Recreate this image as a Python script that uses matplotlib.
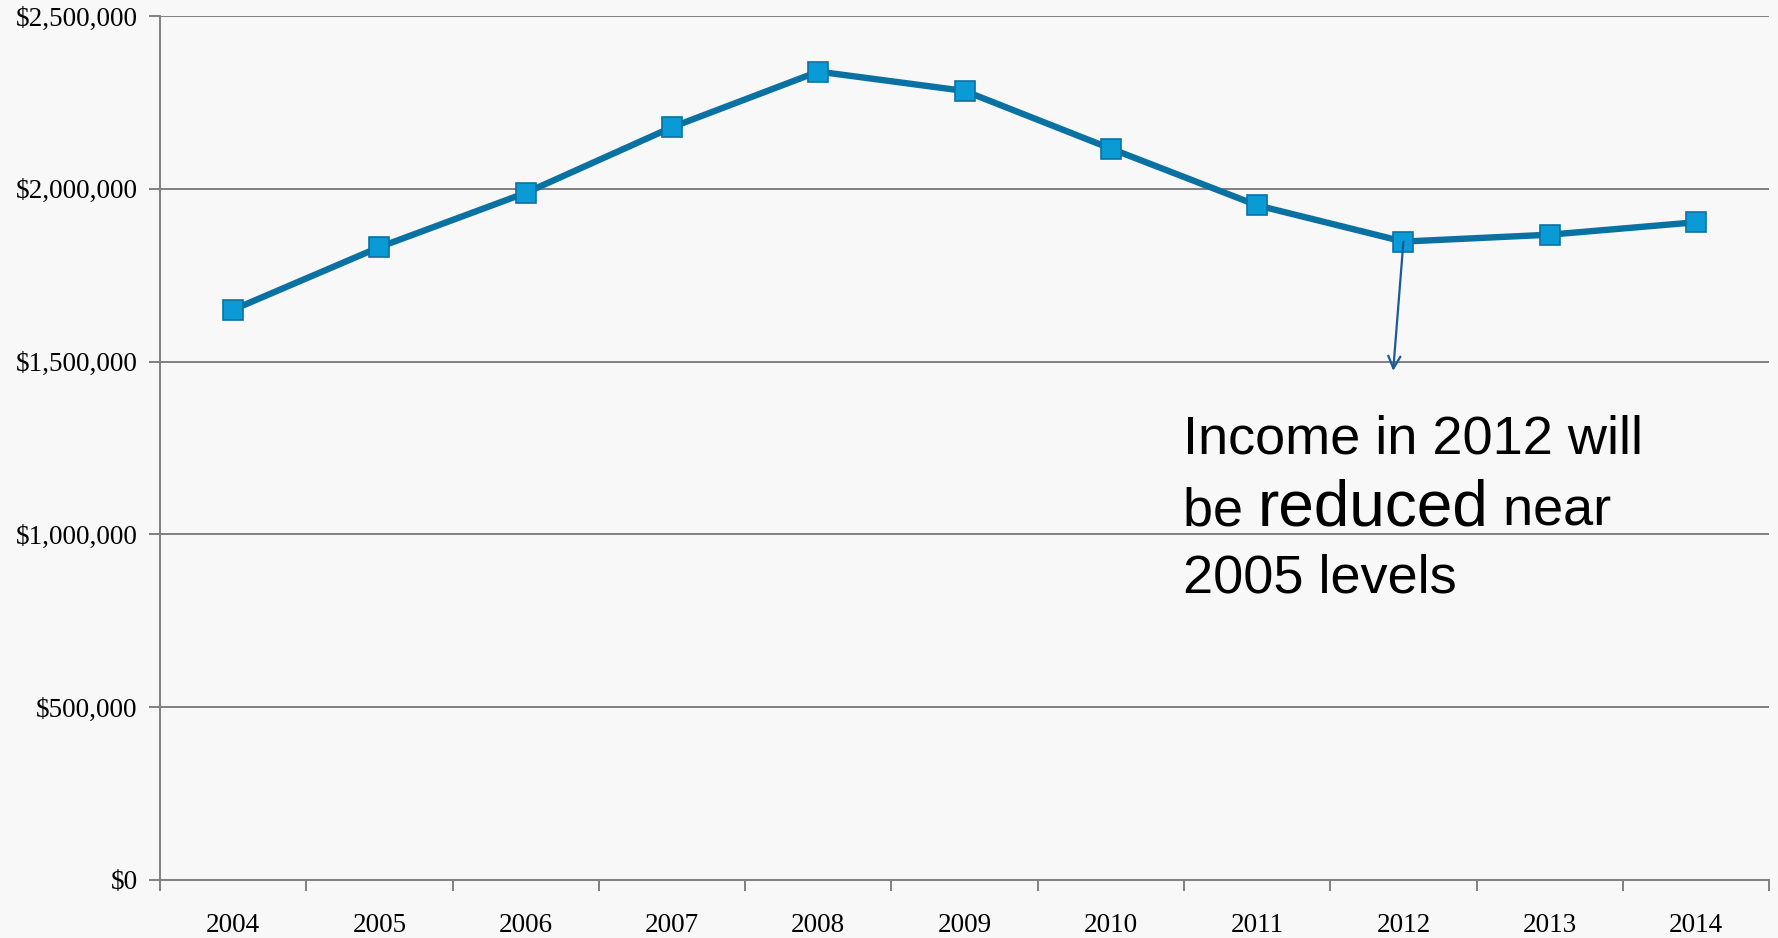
import numpy as np
from matplotlib import pyplot as plt

# data
years = ["2004", "2005", "2006", "2007", "2008", "2009", "2010", "2011", "2012", "2013", "2014"]
income = [1650000, 1831000, 1988000, 2178000, 2339000, 2283000, 2116000, 1952000, 1847000, 1867000, 1903000]
y_ticks = [0, 500000, 1000000, 1500000, 2000000, 2500000]

line_color = "#0a72a2"
marker_face = "#0a9ad6"
grid_color = "#808080"

fig = plt.figure(figsize=(17.78, 9.38), dpi=100)
fig.patch.set_facecolor("#f8f8f8")
ax = fig.add_axes([0.090, 0.062, 0.905, 0.921])
ax.set_facecolor("#f8f8f8")

x = np.arange(len(years))
ax.plot(x, income, color=line_color, linewidth=4.6, marker="s", markersize=15,
        markerfacecolor=marker_face, markeredgecolor=line_color, markeredgewidth=1.2,
        zorder=3)

ax.set_xlim(-0.5, len(years) - 0.5)
ax.set_ylim(0, 2500000)

# gridlines
ax.set_yticks(y_ticks)
ax.set_yticklabels(["${:,}".format(v) for v in y_ticks], family="Liberation Serif", fontsize=19.5)
ax.yaxis.grid(True, color=grid_color, linewidth=1.4)
ax.set_axisbelow(True)

# category boundaries as major ticks, labels on centres
ax.set_xticks(np.arange(-0.5, len(years)))
ax.set_xticklabels([])
ax.set_xticks(x, minor=True)
ax.set_xticklabels(years, minor=True, family="Liberation Serif", fontsize=19.5)
ax.tick_params(axis="x", which="major", length=8, width=1.4, color=grid_color, direction="out")
ax.tick_params(axis="x", which="minor", length=0, pad=24)
ax.tick_params(axis="y", length=8, width=1.4, color=grid_color, pad=8)

for side in ["top", "right"]:
    ax.spines[side].set_visible(False)
for side in ["left", "bottom"]:
    ax.spines[side].set_color(grid_color)
    ax.spines[side].set_linewidth(1.4)

# annotation arrow from the 2012 point
ax.annotate("", xy=(7.93, 1473000), xytext=(8, 1847000),
            arrowprops=dict(arrowstyle="->", color="#1a5a9a", lw=1.6, mutation_scale=22,
                            shrinkA=0, shrinkB=0), zorder=4)

font = dict(family="Liberation Sans", color="black")
tx = 6.49
ax.text(tx, 1233000, "Income in 2012 will", fontsize=39, va="baseline", **font)
ax.text(tx, 832000, "2005 levels", fontsize=39, va="baseline", **font)

fig.canvas.draw()
renderer = fig.canvas.get_renderer()
t1 = ax.text(tx, 1025000, "be ", fontsize=39, va="baseline", **font)
bb = t1.get_window_extent(renderer)
x2 = ax.transData.inverted().transform((bb.x1, 0))[0]
t2 = ax.text(x2, 1025000, "reduced", fontsize=46, va="baseline", **font)
bb = t2.get_window_extent(renderer)
x3 = ax.transData.inverted().transform((bb.x1, 0))[0]
ax.text(x3, 1025000, " near", fontsize=39, va="baseline", **font)

fig.savefig("out.png", dpi=100, facecolor=fig.get_facecolor())
